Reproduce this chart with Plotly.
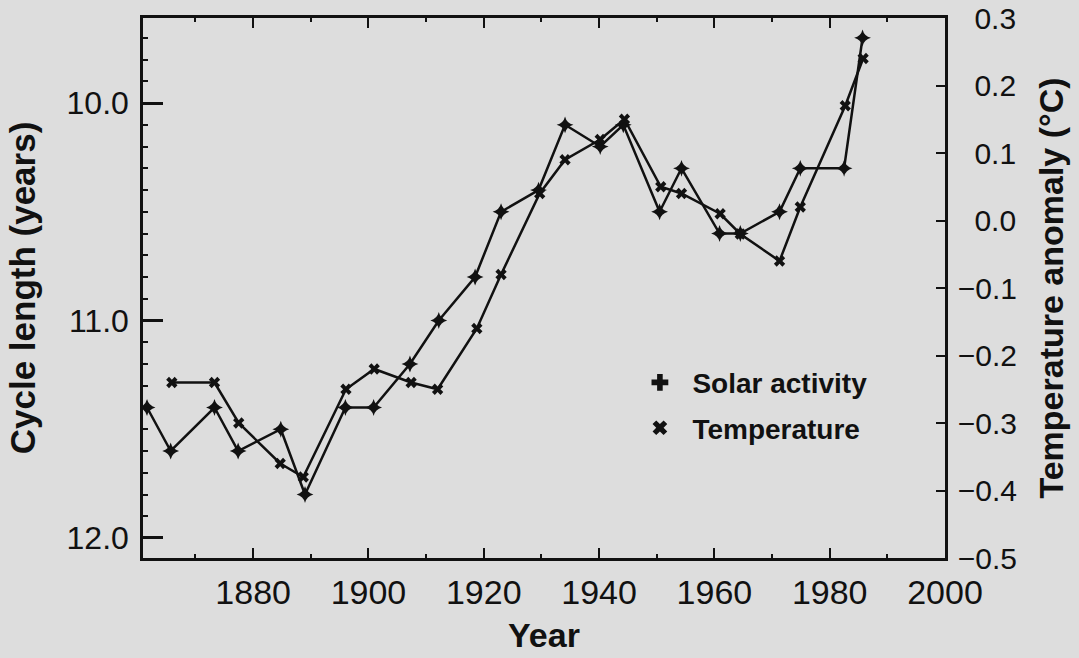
import plotly.graph_objects as go

# ---- data ----
solar_years = [1861.6, 1865.7, 1873.3, 1877.4, 1884.8, 1889.0, 1896.0, 1900.9,
               1907.2, 1912.2, 1918.5, 1923.0, 1929.5, 1934.1, 1940.2, 1944.2,
               1950.5, 1954.3, 1960.9, 1964.5, 1971.3, 1974.9, 1982.5, 1985.7]
solar_cycle_length = [11.40, 11.60, 11.40, 11.60, 11.50, 11.80, 11.40, 11.40,
                      11.20, 11.00, 10.80, 10.50, 10.40, 10.10, 10.20, 10.10,
                      10.50, 10.30, 10.60, 10.60, 10.50, 10.30, 10.30, 9.70]

temp_years = [1865.9, 1873.3, 1877.5, 1884.7, 1888.7, 1896.1, 1901.0, 1907.4,
              1912.0, 1918.8, 1923.0, 1929.7, 1934.1, 1940.2, 1944.4, 1950.7,
              1954.3, 1961.0, 1964.5, 1971.3, 1974.9, 1982.7, 1985.8]
temp_anomaly = [-0.24, -0.24, -0.30, -0.36, -0.38, -0.25, -0.22, -0.24,
                -0.25, -0.16, -0.08, 0.04, 0.09, 0.12, 0.15, 0.05,
                0.04, 0.01, -0.02, -0.06, 0.02, 0.17, 0.24]

x_ticks = [1880, 1900, 1920, 1940, 1960, 1980, 2000]
left_ticks = [10.0, 11.0, 12.0]
right_ticks = [0.3, 0.2, 0.1, 0.0, -0.1, -0.2, -0.3, -0.4, -0.5]

series_names = ["Solar activity", "Temperature"]

# ---- styling ----
INK = "#111111"
BG = "#dddddd"
FONT = "Liberation Sans"


def fmt_right(v):
    s = f"{abs(v):.1f}"
    return ("\u2212" + s) if v < 0 else ("\u2007" + s)


fig = go.Figure()

fig.add_trace(go.Scatter(
    x=solar_years, y=solar_cycle_length, mode="lines+markers",
    line=dict(color=INK, width=2.5),
    marker=dict(symbol="star-diamond", size=12, color=INK),
    showlegend=False, yaxis="y", name=series_names[0]))

fig.add_trace(go.Scatter(
    x=temp_years, y=temp_anomaly, mode="lines+markers",
    line=dict(color=INK, width=2.5),
    marker=dict(symbol="x", size=10, color=INK),
    showlegend=False, yaxis="y2", name=series_names[1]))

# legend entries (symbols only, as in the reference)
fig.add_trace(go.Scatter(
    x=[None], y=[None], mode="markers", name=series_names[0],
    marker=dict(symbol="cross", size=14, color=INK), legendgroup="a"))
fig.add_trace(go.Scatter(
    x=[None], y=[None], mode="markers", name=series_names[1],
    marker=dict(symbol="x", size=13, color=INK), legendgroup="b"))

fig.update_layout(
    width=1079, height=658,
    margin=dict(l=143, r=134, t=18, b=100, autoexpand=False),
    paper_bgcolor=BG, plot_bgcolor=BG,
    font=dict(family=FONT, color=INK),
    showlegend=True,
    legend=dict(
        x=0.604, y=0.371, xanchor="left", yanchor="top",
        bgcolor="rgba(0,0,0,0)", borderwidth=0,
        font=dict(family=FONT, size=28, weight=700, color=INK),
        tracegroupgap=6, itemwidth=55,
    ),
    xaxis=dict(
        range=[1860.9, 2000], automargin=False,
        tickvals=x_ticks, ticktext=[str(v) for v in x_ticks],
        ticks="inside", ticklen=10, tickwidth=2, tickcolor=INK,
        minor=dict(dtick=10, tick0=1870, ticks="inside", ticklen=4,
                   tickwidth=2, tickcolor=INK),
        showline=True, linecolor=INK, linewidth=2.5, mirror="ticks",
        showgrid=False, zeroline=False,
        tickfont=dict(family=FONT, size=34, color=INK),
        ticklabelstandoff=2,
        title=dict(text="Year", standoff=14,
                   font=dict(family=FONT, size=34, weight=700, color=INK)),
    ),
    yaxis=dict(
        range=[12.092, 9.609], automargin=False,
        tickvals=left_ticks, ticktext=[f"{v:.1f}" for v in left_ticks],
        ticks="inside", ticklen=20, tickwidth=2.5, tickcolor=INK,
        minor=dict(dtick=0.1, tick0=10, ticks="inside", ticklen=5,
                   tickwidth=2, tickcolor=INK),
        showline=True, linecolor=INK, linewidth=2.5,
        showgrid=False, zeroline=False,
        tickfont=dict(family=FONT, size=32, color=INK),
        ticklabelstandoff=5,
        title=dict(text="Cycle length (years)", standoff=21,
                   font=dict(family=FONT, size=35, weight=700, color=INK)),
    ),
    yaxis2=dict(
        overlaying="y", side="right", automargin=False,
        range=[-0.5, 0.3],
        tickvals=right_ticks, ticktext=[fmt_right(v) for v in right_ticks],
        ticks="inside", ticklen=9, tickwidth=2, tickcolor=INK,
        showline=True, linecolor=INK, linewidth=2.5,
        showgrid=False, zeroline=False,
        tickfont=dict(family=FONT, size=30, color=INK),
        ticklabelstandoff=4,
        title=dict(text="Temperature anomaly (°C)", standoff=24,
                   font=dict(family=FONT, size=34, weight=700, color=INK)),
    ),
)

fig.write_html(
    "out.html",
    config={"displayModeBar": False},
    post_script="document.body.style.margin='0px';"
                "document.body.style.background='#dddddd';",
)
